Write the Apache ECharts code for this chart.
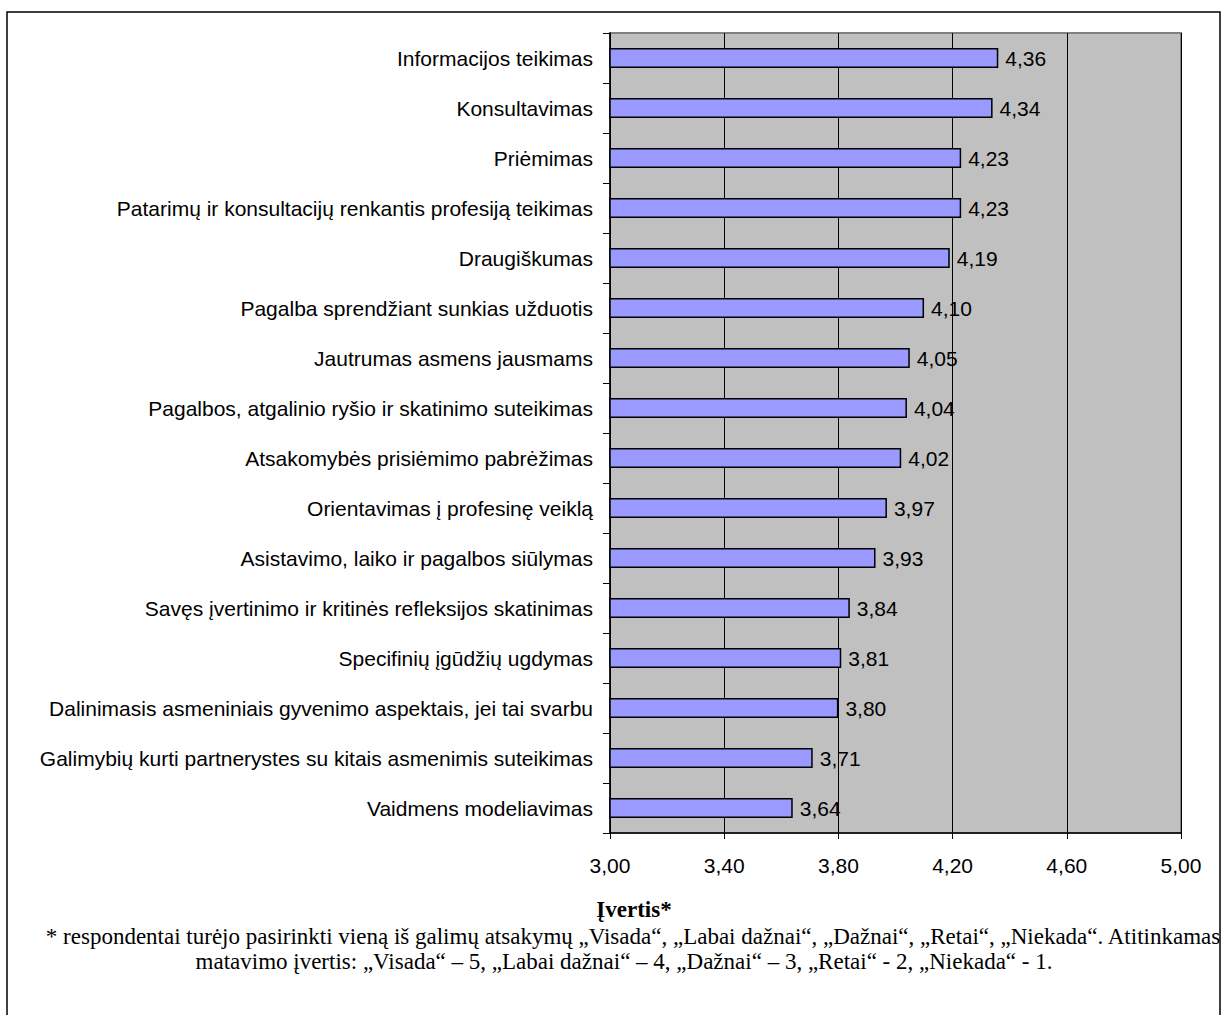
<!DOCTYPE html>
<html>
<head>
<meta charset="utf-8">
<script src="https://cdn.jsdelivr.net/npm/echarts@6/dist/echarts.min.js"></script>
<style>
  html, body { margin: 0; padding: 0; background: #fff; }
  #chart { width: 1223px; height: 1015px; }
</style>
</head>
<body>
<div id="chart"></div>
<script>
// Mentoring activities and their mean rating (1–5 scale)
const categories = [
  'Informacijos teikimas',
  'Konsultavimas',
  'Priėmimas',
  'Patarimų ir konsultacijų renkantis profesiją teikimas',
  'Draugiškumas',
  'Pagalba sprendžiant sunkias užduotis',
  'Jautrumas asmens jausmams',
  'Pagalbos, atgalinio ryšio ir skatinimo suteikimas',
  'Atsakomybės prisiėmimo pabrėžimas',
  'Orientavimas į profesinę veiklą',
  'Asistavimo, laiko ir pagalbos siūlymas',
  'Savęs įvertinimo ir kritinės refleksijos skatinimas',
  'Specifinių įgūdžių ugdymas',
  'Dalinimasis asmeniniais gyvenimo aspektais, jei tai svarbu',
  'Galimybių kurti partnerystes su kitais asmenimis suteikimas',
  'Vaidmens modeliavimas'
];
const scores = [4.36, 4.34, 4.23, 4.23, 4.19, 4.10, 4.05, 4.04, 4.02, 3.97, 3.93, 3.84, 3.81, 3.80, 3.71, 3.64];

const axisTitle = 'Įvertis*';
const footnoteLines = [
  '* respondentai turėjo pasirinkti vieną iš galimų atsakymų „Visada“, „Labai dažnai“, „Dažnai“, „Retai“, „Niekada“. Atitinkamas',
  'matavimo įvertis: „Visada“ – 5, „Labai dažnai“ – 4, „Dažnai“ – 3, „Retai“ - 2, „Niekada“ - 1.'
];

const fmt = v => v.toFixed(2).replace('.', ',');
const sans = '"Liberation Sans", Arial, sans-serif';
const serif = '"Liberation Serif", "Times New Roman", serif';

const chart = echarts.init(document.getElementById('chart'), null, { renderer: 'svg' });

chart.setOption({
  animation: false,
  backgroundColor: '#ffffff',
  grid: {
    left: 610, right: 42, top: 33, height: 800,
    show: true,
    backgroundColor: '#c0c0c0',
    borderColor: '#808080',
    borderWidth: 2
  },
  xAxis: {
    type: 'value',
    min: 3.0, max: 5.0, interval: 0.4,
    axisLine: { show: true, lineStyle: { color: '#000', width: 1.5 } },
    axisTick: { show: true, length: 6, lineStyle: { color: '#000' } },
    axisLabel: {
      margin: 22,
      color: '#000',
      fontFamily: sans,
      fontSize: 21,
      formatter: v => fmt(v)
    },
    splitLine: { show: true, lineStyle: { color: '#000', width: 1 } }
  },
  yAxis: {
    type: 'category',
    data: categories,
    inverse: true,
    axisLine: { show: true, lineStyle: { color: '#000', width: 1.5 } },
    axisTick: { show: true, length: 7, alignWithLabel: false, lineStyle: { color: '#000' } },
    axisLabel: {
      margin: 17,
      color: '#000',
      fontFamily: sans,
      fontSize: 21
    },
    splitLine: { show: false }
  },
  series: [{
    type: 'bar',
    data: scores,
    barWidth: '40%',
    itemStyle: { color: '#9999ff', borderColor: '#000', borderWidth: 1.5 },
    label: {
      show: true,
      position: 'right',
      distance: 7,
      color: '#000',
      fontFamily: sans,
      fontSize: 21,
      formatter: p => fmt(p.value)
    }
  }],
  graphic: [
    {
      type: 'rect',
      shape: { x: 7, y: 12, width: 1213, height: 1100 },
      style: { fill: 'none', stroke: '#000', lineWidth: 1.5 },
      silent: true
    },
    {
      type: 'text',
      x: 634, y: 909,
      style: {
        text: axisTitle,
        fontFamily: serif, fontWeight: 'bold', fontSize: 23,
        fill: '#000', align: 'center', verticalAlign: 'middle'
      }
    },
    {
      type: 'text',
      x: 633, y: 936,
      style: {
        text: footnoteLines[0],
        fontFamily: serif, fontSize: 23,
        fill: '#000', align: 'center', verticalAlign: 'middle'
      }
    },
    {
      type: 'text',
      x: 624, y: 961,
      style: {
        text: footnoteLines[1],
        fontFamily: serif, fontSize: 23,
        fill: '#000', align: 'center', verticalAlign: 'middle'
      }
    }
  ]
});
</script>
</body>
</html>
